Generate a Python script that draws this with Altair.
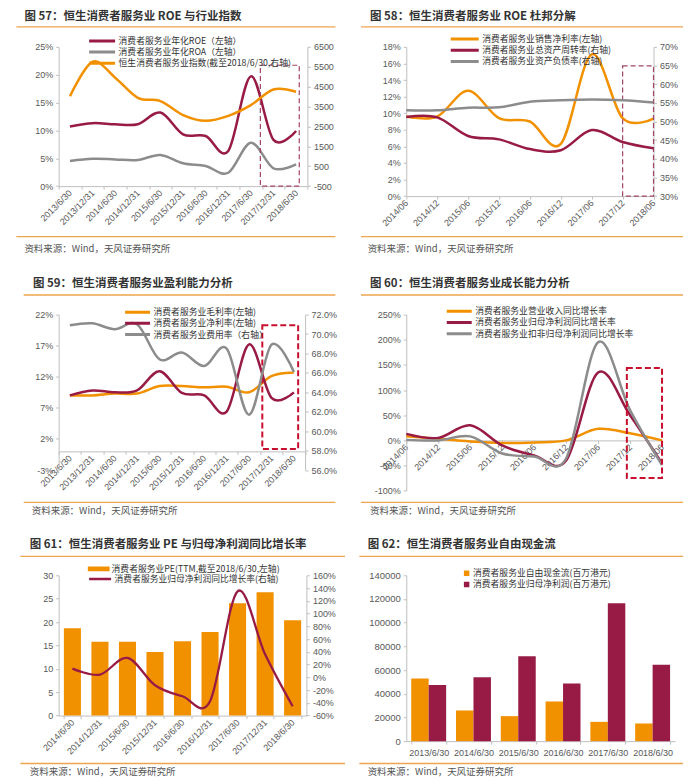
import json
import pandas as pd
import altair as alt

# ---------------- colours / fonts ----------------
ORANGE = "#F29100"
DARKRED = "#981B45"
GRAY = "#8C8C8C"
RULE = "#EFA54F"
BOX_A = "#A04468"
BOX_B = "#C8102E"
CJK = "Noto Sans CJK SC"
LAT = "Liberation Sans"

SOURCE = "资料来源：Wind，天风证券研究所"

# ---------------- data ----------------
cats11 = ["2013/6/30", "2013/12/31", "2014/6/30", "2014/12/31", "2015/6/30", "2015/12/31",
          "2016/6/30", "2016/12/31", "2017/6/30", "2017/12/31", "2018/6/30"]
cats9a = ["2014/06", "2014/12", "2015/06", "2015/12", "2016/06", "2016/12", "2017/06", "2017/12", "2018/06"]
cats9b = ["2014/6/30", "2014/12/31", "2015/6/30", "2015/12/31", "2016/6/30", "2016/12/31",
          "2017/6/30", "2017/12/31", "2018/6/30"]
cats6 = ["2013/6/30", "2014/6/30", "2015/6/30", "2016/6/30", "2017/6/30", "2018/6/30"]

# Fig 57
t57 = "图 57：恒生消费者服务业 ROE 与行业指数"
s57 = ["消费者服务业年化ROE（左轴）", "消费者服务业年化ROA（左轴）", "恒生消费者服务业指数(截至2018/6/30,右轴)"]
roe = [10.7, 11.3, 11.1, 11.1, 13.2, 9.3, 9.0, 6.3, 19.7, 8.3, 9.9]
roa = [4.5, 4.9, 4.8, 4.7, 5.6, 4.1, 3.6, 2.4, 7.8, 3.2, 3.9]
hs_index = [4020, 5750, 4950, 3940, 3770, 3070, 2780, 3030, 3570, 4360, 4240]
box57 = [8.42, 10.14, 0, 21.7]

# Fig 58
t58 = "图 58：恒生消费者服务业 ROE 杜邦分解"
s58 = ["消费者服务业销售净利率(左轴)", "消费者服务业总资产周转率(右轴)", "消费者服务业资产负债率(右轴)"]
net_margin58 = [9.6, 9.6, 12.7, 9.4, 9.0, 6.3, 17.1, 9.4, 9.35]
turnover = [51.2, 51.1, 46.1, 45.2, 42.6, 42.3, 47.7, 44.5, 42.8]
leverage = [53.0, 53.0, 53.7, 53.8, 55.3, 55.7, 55.9, 55.7, 55.1]
box58 = [7.0, 8.0, 0, 15.7]

# Fig 59
t59 = "图 59：恒生消费者服务业盈利能力分析"
s59 = ["消费者服务业毛利率(左轴)", "消费者服务业净利率(左轴)", "消费者服务业费用率（右轴）"]
gross_margin = [9.0, 9.0, 9.3, 9.3, 10.5, 10.5, 10.3, 10.4, 9.5, 12.1, 12.7]
net_margin59 = [9.0, 9.8, 9.5, 9.8, 12.9, 9.4, 9.0, 6.4, 17.2, 8.6, 9.5]
expense = [70.9, 71.1, 70.5, 71.0, 67.4, 68.1, 66.7, 68.5, 61.7, 68.9, 66.1]
box59 = [8.59, 10.19, 0.4, 20.3]

# Fig 60
t60 = "图 60：恒生消费者服务业成长能力分析"
s60 = ["消费者服务业营业收入同比增长率", "消费者服务业归母净利润同比增长率", "消费者服务业扣非归母净利润同比增长率"]
rev_growth = [8, 3, -2, -5, -4, 0, 23, 14, 0]
np_growth60 = [13, 5, 30, -10, -30, -40, 135, 50, -46]
np_ex_growth = [1, 0, 8, -26, -32, -36, 195, 60, -49]
box60 = [6.9, 8.0, -75, 144]

# Fig 61
t61 = "图 61：恒生消费者服务业 PE 与归母净利润同比增长率"
s61 = ["消费者服务业PE(TTM,截至2018/6/30,左轴)", "消费者服务业归母净利润同比增长率(右轴)"]
pe = [18.7, 15.8, 15.8, 13.6, 15.9, 17.9, 24.0, 26.4, 20.4]
np_growth61 = [13.7, 4.3, 30.4, -12.5, -29.7, -37.5, 134.9, 36, -45.4]

# Fig 62
t62 = "图 62：恒生消费者服务业自由现金流"
s62 = ["消费者服务业自由现金流(百万港元)", "消费者服务业归母净利润(百万港元)"]
fcf = [52900, 25900, 21100, 33500, 16300, 14900]
net_profit = [47300, 54000, 71700, 48700, 116500, 64400]


# ---------------- helpers ----------------
def long_df(cats, names, series):
    rows = []
    for name, vals in zip(names, series):
        for i, (c, v) in enumerate(zip(cats, vals)):
            rows.append({"i": i, "cat": c, "s": name, "v": v})
    return pd.DataFrame(rows)


def x_between(cats, width, offset=0):
    n = len(cats)
    arr = json.dumps(cats)

    def f(field):
        return alt.X(f"{field}:Q",
                     scale=alt.Scale(domain=[-0.5, n - 0.5], nice=False, zero=False),
                     axis=alt.Axis(title=None, values=[k - 0.5 for k in range(n + 1)],
                                   labelExpr=f"datum.value < {n - 1} ? {arr}[round(datum.value + 0.5)] : ''",
                                   labelOffset=width / n / 2, labelAngle=-45, labelAlign="right",
                                   labelBaseline="middle", labelOverlap=False, labelFlush=False,
                                   labelPadding=2, offset=offset))
    return f


def x_on(cats, offset=0):
    n = len(cats)
    arr = json.dumps(cats)

    def f(field):
        return alt.X(f"{field}:Q",
                     scale=alt.Scale(domain=[0, n - 1], nice=False, zero=False),
                     axis=alt.Axis(title=None, values=list(range(n)),
                                   labelExpr=f"{arr}[round(datum.value)]",
                                   labelAngle=-45, labelAlign="right", labelBaseline="middle",
                                   labelOverlap=False, labelFlush=False, labelPadding=2, offset=offset))
    return f


def y_ax(lo, hi, step, orient, expr, fs=9):
    def f(field):
        return alt.Y(f"{field}:Q",
                     scale=alt.Scale(domain=[lo, hi], nice=False, zero=False),
                     axis=alt.Axis(title=None, orient=orient, values=list(range(lo, hi + 1, step)),
                                   labelExpr=expr, labelFontSize=fs, labelPadding=3))
    return f


def line_legend(x, y, length, row_h, sw=3):
    return alt.Legend(title=None, orient="none", legendX=x, legendY=y, direction="vertical",
                      symbolType="stroke", symbolSize=length * length, symbolStrokeWidth=sw,
                      clipHeight=row_h, rowPadding=1.2, labelFont=CJK, labelFontSize=8.8,
                      labelColor="#333333", labelOffset=2, labelLimit=250, padding=0)


def box_layer(b, xf, yf, color, sw, dash):
    d = pd.DataFrame({"x0": [b[0]], "x1": [b[1]], "y0": [b[2]], "y1": [b[3]]})
    return alt.Chart(d).mark_rect(fillOpacity=0, stroke=color, strokeWidth=sw, strokeDash=dash).encode(
        x=xf("x0"), x2=alt.X2("x1"), y=yf("y0"), y2=alt.Y2("y1"))


def decor(title, tx, ty, rx1, rx2, ryt, ryb, sx, sy):
    d = pd.DataFrame({"t": [title], "src": [SOURCE]})
    base = alt.Chart(d)
    return [
        base.mark_rule(color=RULE, strokeWidth=1.3).encode(x=alt.value(rx1), x2=alt.value(rx2), y=alt.value(ryt)),
        base.mark_rule(color=RULE, strokeWidth=1.3).encode(x=alt.value(rx1), x2=alt.value(rx2), y=alt.value(ryb)),
        base.mark_text(align="left", baseline="middle", font=CJK, fontSize=11.5, fontWeight="bold",
                       color="#333333").encode(x=alt.value(tx), y=alt.value(ty), text="t:N"),
        base.mark_text(align="left", baseline="middle", font=CJK, fontSize=9.5,
                       color="#555555").encode(x=alt.value(sx), y=alt.value(sy), text="src:N"),
    ]


def spacer(w, h):
    return alt.Chart(pd.DataFrame({"z": [0]})).mark_point(opacity=0).encode(
        x=alt.value(0), y=alt.value(0)).properties(width=w, height=h)


def line(df, xf, yf, color, sw=2.5):
    return alt.Chart(df).mark_line(interpolate="cardinal", strokeWidth=sw).encode(
        x=xf("i"), y=yf("v"), color=color)


PCT = "datum.value + '%'"

# ---------------- panel 57 ----------------
W1, H1 = 249, 139.4
x1 = x_between(cats11, W1)
yl1 = y_ax(0, 25, 5, "left", PCT)
yr1 = y_ax(-500, 6500, 1000, "right", "datum.value")
c1 = alt.Color("s:N", scale=alt.Scale(domain=s57, range=[DARKRED, GRAY, ORANGE]),
               legend=line_legend(29, -10.2, 26, 8.5))
p1 = alt.layer(
    *decor(t57, -34.3, -30, -42.3, 277, -20, 190, -34.3, 202.7),
    alt.layer(line(long_df(cats11, s57[:2], [roe, roa]), x1, yl1, c1),
              box_layer(box57, x1, yl1, BOX_A, 1.2, [5, 3])),
    line(long_df(cats11, s57[2:], [hs_index]), x1, yr1, c1),
).resolve_scale(y="independent").properties(width=W1, height=H1)

# ---------------- panel 58 ----------------
W2, H2 = 247.5, 149.4
x2 = x_on(cats9a)
yl2 = y_ax(0, 18, 2, "left", PCT)
yr2 = y_ax(30, 70, 5, "right", PCT)
c2 = alt.Color("s:N", scale=alt.Scale(domain=s58, range=[ORANGE, DARKRED, GRAY]),
               legend=line_legend(43, -12, 28, 8.5))
p2 = alt.layer(
    *decor(t58, -36.3, -30, -45.3, 277, -20, 190, -38.7, 202.7),
    alt.layer(line(long_df(cats9a, s58[:1], [net_margin58]), x2, yl2, c2),
              box_layer(box58, x2, yl2, BOX_A, 1.2, [5, 3])),
    line(long_df(cats9a, s58[1:], [turnover, leverage]), x2, yr2, c2),
).resolve_scale(y="independent").properties(width=W2, height=H2)

# ---------------- panel 59 ----------------
W3, H3 = 246.7, 155.6
x3 = x_between(cats11, W3, offset=-H3 * 3 / 25)
yl3 = y_ax(-3, 22, 5, "left", PCT)
yr3 = y_ax(56, 72, 2, "right", "format(datum.value, '.1f') + '%'")
c3 = alt.Color("s:N", scale=alt.Scale(domain=s59, range=[ORANGE, DARKRED, GRAY]),
               legend=line_legend(65, -7, 25, 9.2))
p3 = alt.layer(
    *decor(t59, -25.7, -30.6, -35, 277, -19.6, 188, -27, 197),
    alt.layer(line(long_df(cats11, s59[:2], [gross_margin, net_margin59]), x3, yl3, c3),
              box_layer(box59, x3, yl3, BOX_B, 2, [6, 3])),
    line(long_df(cats11, s59[2:], [expense]), x3, yr3, c3),
).resolve_scale(y="independent").properties(width=W3, height=H3)

# ---------------- panel 60 ----------------
W4, H4 = 256, 176.3
x4 = x_on(cats9a, offset=-H4 * 100 / 350)
y4 = y_ax(-100, 250, 50, "left", PCT)
c4 = alt.Color("s:N", scale=alt.Scale(domain=s60, range=[ORANGE, DARKRED, GRAY]),
               legend=line_legend(39, -8.3, 25, 10))
p4 = alt.layer(
    *decor(t60, -36.3, -30.6, -45.3, 277, -19.6, 188, -36.3, 197),
    line(long_df(cats9a, s60, [rev_growth, np_growth60, np_ex_growth]), x4, y4, c4),
    box_layer(box60, x4, y4, BOX_B, 2, [6, 3]),
).properties(width=W4, height=H4)

# ---------------- panel 61 ----------------
W5, H5 = 248, 140.4
df5 = pd.DataFrame({"cat": cats9b, "pe": pe, "g": np_growth61, "s1": s61[0], "s2": s61[1]})
x5 = alt.X("cat:N", sort=cats9b, scale=alt.Scale(paddingInner=0.38, paddingOuter=0.19),
           axis=alt.Axis(title=None, labelAngle=-45, labelAlign="right", labelBaseline="middle",
                         tickBand="extent", labelPadding=2, labelOverlap=False))
yl5 = y_ax(0, 30, 5, "left", "datum.value")
yr5 = y_ax(-60, 160, 20, "right", PCT)
bars5 = alt.Chart(df5).mark_bar().encode(
    x=x5, y=yl5("pe"),
    fill=alt.Fill("s1:N", scale=alt.Scale(domain=s61[:1], range=[ORANGE]),
                  legend=alt.Legend(title=None, orient="none", legendX=29, legendY=-11,
                                    symbolType="M-1,-0.22H1V0.22H-1Z", symbolSize=484,
                                    symbolStrokeWidth=0, clipHeight=9, labelFont=CJK,
                                    labelFontSize=8.8, labelColor="#333333", labelOffset=2,
                                    labelLimit=250, padding=0)))
line5 = alt.Chart(df5).mark_line(interpolate="cardinal", strokeWidth=2.3).encode(
    x=x5, y=yr5("g"),
    stroke=alt.Stroke("s2:N", scale=alt.Scale(domain=s61[1:], range=[DARKRED]),
                      legend=alt.Legend(title=None, orient="none", legendX=29, legendY=-0.8,
                                        symbolType="stroke", symbolSize=484, symbolStrokeWidth=2.5,
                                        clipHeight=9, labelFont=CJK, labelFontSize=8.8,
                                        labelColor="#333333", labelOffset=2, labelLimit=250,
                                        padding=0)))
p5 = alt.layer(
    *decor(t61, -29, -30.6, -38.3, 286.7, -19, 188.4, -29, 196.7),
    bars5, line5,
).resolve_scale(y="independent").properties(width=W5, height=H5)

# ---------------- panel 62 ----------------
W6, H6 = 269, 166
df6 = long_df(cats6, s62, [fcf, net_profit])
x6 = alt.X("cat:N", sort=cats6, scale=alt.Scale(paddingInner=0.22, paddingOuter=0.11),
           axis=alt.Axis(title=None, labelAngle=0, tickBand="extent", labelPadding=4,
                         labelFontSize=9))
y6 = y_ax(0, 140000, 20000, "left", "format(datum.value, 'd')", fs=9.5)
bars6 = alt.Chart(df6).mark_bar().encode(
    x=x6, y=y6("v"),
    xOffset=alt.XOffset("s:N", sort=s62, scale=alt.Scale(paddingInner=0, paddingOuter=0)),
    color=alt.Color("s:N", scale=alt.Scale(domain=s62, range=[ORANGE, DARKRED]),
                    legend=alt.Legend(title=None, orient="none", legendX=56, legendY=-6.6,
                                      symbolType="square", symbolSize=30, symbolStrokeWidth=0,
                                      clipHeight=9, rowPadding=1.2, labelFont=CJK, labelFontSize=8.8,
                                      labelColor="#333333", labelOffset=2, labelLimit=250,
                                      padding=0)))
p6 = alt.layer(
    *decor(t62, -38.7, -30.6, -47, 277, -19, 188.4, -38.7, 196.7),
    bars6,
).properties(width=W6, height=H6)

# ---------------- layout ----------------
items = [spacer(42.3, 268), p1, spacer(99, 10), p2,
         spacer(42.3, 261), p3, spacer(99, 10), p4,
         spacer(42.3, 170), p5, spacer(99, 10), p6]

chart = alt.concat(*items, columns=4, spacing=0, bounds="flush", align="each").resolve_scale(
    color="independent", fill="independent", stroke="independent"
).properties(
    padding={"left": 4.7, "top": 2.5, "right": 0, "bottom": 0}
).configure_view(strokeWidth=0).configure_axis(
    grid=False, domainColor="#BFBFBF", tickColor="#BFBFBF", labelColor="#595959",
    labelFont=LAT, labelFontSize=9, tickSize=3
)

chart.save("out.html", embed_options={"renderer": "svg", "actions": False})
